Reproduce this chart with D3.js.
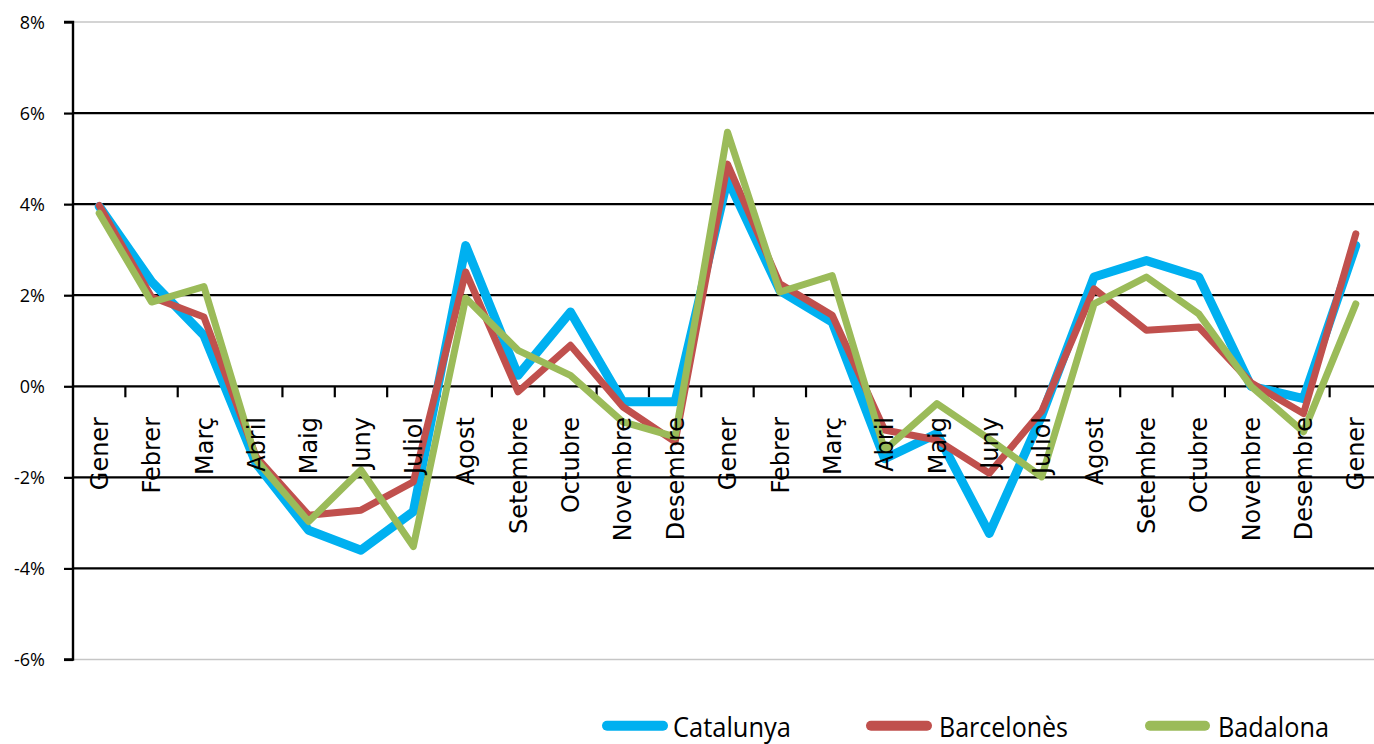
<!DOCTYPE html>
<html>
<head>
<meta charset="utf-8">
<script src="https://cdn.jsdelivr.net/npm/d3@7"></script>
<style>
  html, body { margin: 0; padding: 0; background: #fff; overflow: hidden; }
  svg { display: block; }
</style>
</head>
<body>
<svg id="chart" width="1374" height="744"></svg>
<script>
const months = ["Gener","Febrer","Març","Abril","Maig","Juny","Juliol","Agost","Setembre","Octubre","Novembre","Desembre",
                "Gener","Febrer","Març","Abril","Maig","Juny","Juliol","Agost","Setembre","Octubre","Novembre","Desembre","Gener"];
const catalunya = [3.95, 2.3, 1.12, -1.7, -3.16, -3.6, -2.75, 3.09, 0.24, 1.63, -0.34, -0.34,
                   4.55, 2.1, 1.41, -1.59, -1.04, -3.23, -0.65, 2.4, 2.76, 2.4, 0.0, -0.27, 3.09];
const barcelones = [3.97, 1.96, 1.52, -1.55, -2.83, -2.72, -2.1, 2.51, -0.12, 0.9, -0.45, -1.22,
                    4.88, 2.25, 1.56, -0.96, -1.18, -1.91, -0.55, 2.14, 1.23, 1.3, 0.08, -0.6, 3.35];
const badalona = [3.8, 1.85, 2.19, -1.62, -2.97, -1.84, -3.52, 1.94, 0.79, 0.24, -0.78, -1.11,
                  5.58, 2.07, 2.43, -1.4, -0.38, -1.16, -1.99, 1.81, 2.4, 1.59, 0.0, -1.0, 1.81];
const seriesNames = ["Catalunya", "Barcelonès", "Badalona"];
const yTicks = [-6, -4, -2, 0, 2, 4, 6, 8];

const colors = ["#00B0F0", "#C0504D", "#9BBB59"];
const widths = [9, 7, 7];
const seriesData = [catalunya, barcelones, badalona];

const svg = d3.select("#chart");
const plotLeft = 73, plotRight = 1382, plotTop = 22, plotBottom = 659.5;

const x = d3.scaleBand().domain(d3.range(months.length)).range([plotLeft, plotRight]).paddingInner(0).paddingOuter(0);
const y = d3.scaleLinear().domain([-6, 8]).range([plotBottom, plotTop]);
const cx = i => x(i) + x.bandwidth() / 2;

// gridlines
svg.append("g").selectAll("line").data(yTicks).join("line")
  .attr("x1", plotLeft).attr("x2", 1374)
  .attr("y1", d => y(d)).attr("y2", d => y(d))
  .attr("stroke", d => (d === 8 || d === -6) ? "#c6c6c6" : "#000")
  .attr("stroke-width", d => (d === 8 || d === -6) ? 1.6 : 2.2);

// y axis
const yAxis = d3.axisLeft(y).tickValues(yTicks).tickSize(9).tickPadding(10).tickFormat(d => d + "%");
const gy = svg.append("g").attr("transform", `translate(${plotLeft},0)`).call(yAxis);
gy.select(".domain").attr("stroke", "#000").attr("stroke-width", 2.4).attr("d", `M-9,${plotTop}H0V${plotBottom}H-9`);
gy.selectAll(".tick line").attr("stroke", "#000").attr("stroke-width", 2.2);
gy.selectAll(".tick text").attr("font-family", "'Open Sans', sans-serif").attr("font-size", 18).attr("fill", "#000")
  .attr("x", -28).attr("dy", "0.36em");

// x ticks at band boundaries on the 0 line
const boundaries = d3.range(1, months.length);
svg.append("g").selectAll("line").data(boundaries).join("line")
  .attr("x1", d => x(d)).attr("x2", d => x(d))
  .attr("y1", y(0)).attr("y2", y(0) + 11)
  .attr("stroke", "#000").attr("stroke-width", 2.2);

// lines
const line = d3.line().x((d, i) => cx(i)).y(d => y(d));
seriesData.forEach((s, k) => {
  svg.append("path").datum(s)
    .attr("d", line)
    .attr("fill", "none")
    .attr("stroke", colors[k])
    .attr("stroke-width", widths[k])
    .attr("stroke-linejoin", "round")
    .attr("stroke-linecap", "round");
});

// x labels
svg.append("g").selectAll("text").data(months).join("text")
  .attr("transform", (d, i) => `translate(${cx(i)},417) rotate(-90)`)
  .attr("text-anchor", "end")
  .attr("dy", "0.36em")
  .attr("font-family", "'DejaVu Sans', sans-serif")
  .attr("font-size", 24)
  .attr("fill", "#000")
  .text(d => d);

// legend
const legendItems = [
  { x1: 602, x2: 668, tx: 673, tlen: 118 },
  { x1: 866, x2: 932, tx: 939, tlen: 129 },
  { x1: 1145, x2: 1210, tx: 1218, tlen: 111 }
];
const lg = svg.append("g");
seriesNames.forEach((name, k) => {
  const it = legendItems[k];
  lg.append("line")
    .attr("x1", it.x1 + 5).attr("x2", it.x2 - 5)
    .attr("y1", 725.7).attr("y2", 725.7)
    .attr("stroke", colors[k]).attr("stroke-width", 10).attr("stroke-linecap", "round");
  lg.append("text")
    .attr("x", it.tx).attr("y", 737)
    .attr("font-family", "'Liberation Sans Narrow', 'Open Sans', sans-serif")
    .attr("font-size", 28)
    .attr("textLength", it.tlen)
    .attr("lengthAdjust", "spacingAndGlyphs")
    .attr("fill", "#000")
    .text(name);
});
</script>
</body>
</html>
